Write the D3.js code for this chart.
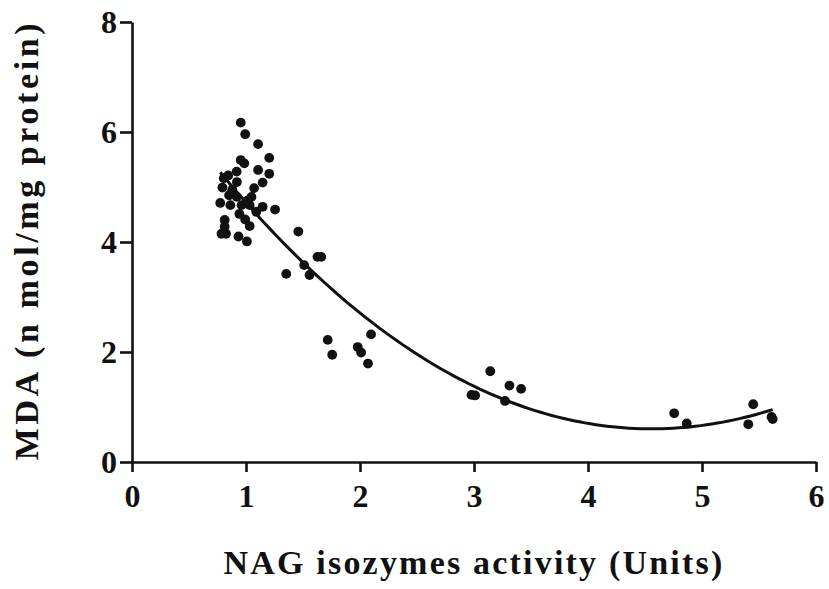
<!DOCTYPE html>
<html>
<head>
<meta charset="utf-8">
<script src="https://cdn.jsdelivr.net/npm/d3@7"></script>
<style>
  body { margin: 0; background: #fff; }
  text { font-family: "Liberation Serif", "Times New Roman", serif; font-weight: bold; fill: #111; }
</style>
</head>
<body>
<div id="chart"></div>
<script>
// NAG isozymes activity (Units) for each sample
const nag = [
  0.954, 0.993, 1.106, 1.204, 0.954, 0.985, 1.106, 1.204, 0.918, 0.844,
  0.805, 1.146, 0.920, 1.071, 0.793, 0.852, 0.920, 1.048, 0.774, 0.863,
  0.961, 1.032, 1.146, 1.255, 0.942, 0.993, 0.813, 1.032, 0.813, 0.785,
  0.825, 0.934, 1.008, 0.880, 1.010, 1.090,
  1.459, 1.627, 1.660, 1.510, 1.353, 1.557,
  1.717, 1.756, 2.097, 1.980, 2.010, 2.070,
  3.143, 2.978, 3.010, 3.311, 3.413, 3.272,
  4.756, 4.866, 5.449, 5.406, 5.610, 5.620
];
// MDA (n mol/mg protein) for each sample
const mda = [
  6.17, 5.96, 5.78, 5.53, 5.49, 5.43, 5.31, 5.24, 5.28, 5.21,
  5.16, 5.08, 5.09, 4.98, 4.99, 4.85, 4.82, 4.82, 4.71, 4.67,
  4.67, 4.67, 4.64, 4.59, 4.51, 4.41, 4.40, 4.29, 4.28, 4.15,
  4.15, 4.10, 4.01, 4.95, 4.75, 4.55,
  4.19, 3.73, 3.73, 3.58, 3.42, 3.40,
  2.22, 1.95, 2.32, 2.09, 1.99, 1.79,
  1.65, 1.22, 1.21, 1.39, 1.33, 1.11,
  0.885, 0.70, 1.05, 0.685, 0.82, 0.78
];
const xTicks = [0, 1, 2, 3, 4, 5, 6];
const yTicks = [0, 2, 4, 6, 8];
const fitDegree = 3;

const W = 829, H = 589;
const x = d3.scaleLinear().domain([0, 6]).range([132, 816]);
const y = d3.scaleLinear().domain([0, 8]).range([462, 22]);

const svg = d3.select("#chart").append("svg")
  .attr("width", W).attr("height", H);

// least squares polynomial fit of mda on nag
function polyfit(xs, ys, deg) {
  const n = deg + 1;
  const A = Array.from({length: n}, () => new Array(n + 1).fill(0));
  xs.forEach((xv, k) => {
    for (let i = 0; i < n; i++) {
      for (let j = 0; j < n; j++) A[i][j] += Math.pow(xv, i + j);
      A[i][n] += ys[k] * Math.pow(xv, i);
    }
  });
  for (let c = 0; c < n; c++) {
    let p = c;
    for (let r = c + 1; r < n; r++) if (Math.abs(A[r][c]) > Math.abs(A[p][c])) p = r;
    [A[c], A[p]] = [A[p], A[c]];
    for (let r = 0; r < n; r++) {
      if (r === c) continue;
      const f = A[r][c] / A[c][c];
      for (let j = c; j <= n; j++) A[r][j] -= f * A[c][j];
    }
  }
  return A.map((row, i) => row[n] / row[i]);
}
const coef = polyfit(nag, mda, fitDegree);
const fit = v => coef.reduce((s, c, i) => s + c * Math.pow(v, i), 0);

// axes
const xAxis = svg.append("g")
  .attr("transform", `translate(0,${y(0)})`)
  .call(d3.axisBottom(x).tickValues(xTicks).tickFormat(d3.format("d"))
    .tickSize(10).tickSizeOuter(0).tickPadding(12));
const yAxis = svg.append("g")
  .attr("transform", `translate(${x(0)},0)`)
  .call(d3.axisLeft(y).tickValues(yTicks).tickFormat(d3.format("d"))
    .tickSize(12).tickSizeOuter(0).tickPadding(3));

[xAxis, yAxis].forEach(g => {
  g.select(".domain").attr("stroke", "#111").attr("stroke-width", 2.6);
  g.selectAll(".tick line").attr("stroke", "#111").attr("stroke-width", 2.6);
  g.selectAll(".tick text").attr("font-size", 32).attr("fill", "#111")
    .attr("font-family", "Liberation Serif").attr("font-weight", "bold");
});
yAxis.selectAll(".tick text").attr("dy", "0.34em");

// points
svg.append("g")
  .selectAll("circle")
  .data(nag.map((v, i) => ({ nag: v, mda: mda[i] })))
  .join("circle")
  .attr("cx", d => x(d.nag))
  .attr("cy", d => y(d.mda))
  .attr("r", 4.9)
  .attr("fill", "#111");

// fitted curve
const xr = d3.extent(nag);
const curvePts = d3.range(0, 101).map(i => xr[0] + (xr[1] - xr[0]) * i / 100);
svg.append("path")
  .datum(curvePts)
  .attr("fill", "none")
  .attr("stroke", "#111")
  .attr("stroke-width", 3)
  .attr("d", d3.line().x(v => x(v)).y(v => y(fit(v))));

// axis titles
svg.append("text")
  .attr("x", 474).attr("y", 574)
  .attr("text-anchor", "middle")
  .attr("font-size", 34)
  .style("letter-spacing", "2.2px")
  .text("NAG isozymes activity (Units)");
svg.append("text")
  .attr("transform", "translate(38,240) rotate(-90)")
  .attr("text-anchor", "middle")
  .attr("font-size", 34)
  .style("letter-spacing", "3.6px")
  .text("MDA (n mol/mg protein)");
</script>
</body>
</html>
